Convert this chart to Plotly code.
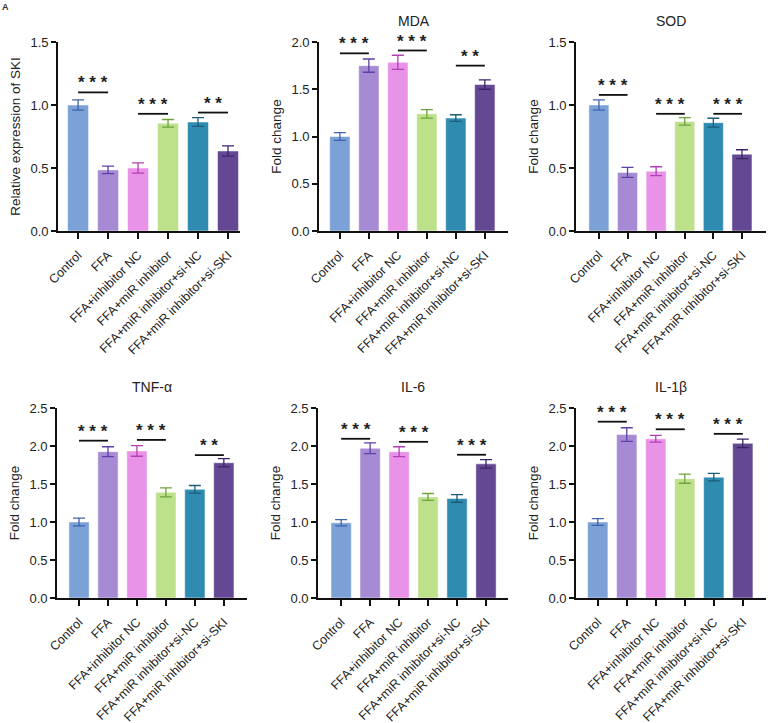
import plotly.graph_objects as go

W, H = 768, 723

categories = ["Control", "FFA", "FFA+inhibitor NC", "FFA+miR inhibitor",
              "FFA+miR inhibitor+si-NC", "FFA+miR inhibitor+si-SKI"]

# values per panel
ski_vals = [1.00, 0.485, 0.50, 0.855, 0.865, 0.635]
ski_err = [0.04, 0.03, 0.04, 0.03, 0.035, 0.04]
mda_vals = [1.00, 1.75, 1.785, 1.24, 1.195, 1.55]
mda_err = [0.04, 0.07, 0.075, 0.045, 0.035, 0.05]
sod_vals = [1.00, 0.465, 0.475, 0.87, 0.86, 0.61]
sod_err = [0.04, 0.04, 0.035, 0.03, 0.035, 0.035]
tnf_vals = [1.00, 1.925, 1.935, 1.39, 1.43, 1.78]
tnf_err = [0.05, 0.065, 0.07, 0.06, 0.05, 0.055]
il6_vals = [0.99, 1.97, 1.925, 1.33, 1.31, 1.765]
il6_err = [0.04, 0.07, 0.065, 0.045, 0.05, 0.055]
il1b_vals = [1.00, 2.15, 2.095, 1.57, 1.59, 2.035]
il1b_err = [0.045, 0.09, 0.045, 0.06, 0.05, 0.055]

# significance brackets: (left idx, right idx, y, label)
ski_sig = [(0, 1, 1.10, "* * *"), (2, 3, 0.93, "* * *"), (4, 5, 0.94, "* *")]
mda_sig = [(0, 1, 1.88, "* * *"), (2, 3, 1.91, "* * *"), (4, 5, 1.75, "* *")]
sod_sig = [(0, 1, 1.08, "* * *"), (2, 3, 0.93, "* * *"), (4, 5, 0.93, "* * *")]
tnf_sig = [(0, 1, 2.07, "* * *"), (2, 3, 2.08, "* * *"), (4, 5, 1.88, "* *")]
il6_sig = [(0, 1, 2.095, "* * *"), (2, 3, 2.055, "* * *"), (4, 5, 1.885, "* * *")]
il1b_sig = [(0, 1, 2.32, "* * *"), (2, 3, 2.22, "* * *"), (4, 5, 2.16, "* * *")]

bar_colors = ["#7ba1d6", "#a68bd4", "#e993e8", "#bde08b", "#2f8cb0", "#644893"]
err_colors = ["#3f63aa", "#5c40a6", "#b23fb5", "#6ea33a", "#1c5b7a", "#3b2568"]

panels = [
    dict(title="", ytitle="Relative expression of SKI", vals=ski_vals, err=ski_err, sig=ski_sig,
         yr=[0, 1.5], px=(58, 240), py=(42, 231), xr=[-0.67, 5.4]),
    dict(title="MDA", ytitle="Fold change", vals=mda_vals, err=mda_err, sig=mda_sig,
         yr=[0, 2.0], px=(319, 508), py=(42, 231), xr=[-0.72, 5.8]),
    dict(title="SOD", ytitle="Fold change", vals=sod_vals, err=sod_err, sig=sod_sig,
         yr=[0, 1.5], px=(576, 766), py=(42, 231), xr=[-0.8, 5.84]),
    dict(title="TNF-α", ytitle="Fold change", vals=tnf_vals, err=tnf_err, sig=tnf_sig,
         yr=[0, 2.5], px=(57, 247), py=(408, 598), xr=[-0.76, 5.8]),
    dict(title="IL-6", ytitle="Fold change", vals=il6_vals, err=il6_err, sig=il6_sig,
         yr=[0, 2.5], px=(318, 508), py=(408, 598), xr=[-0.8, 5.76]),
    dict(title="IL-1β", ytitle="Fold change", vals=il1b_vals, err=il1b_err, sig=il1b_sig,
         yr=[0, 2.5], px=(576, 766), py=(408, 598), xr=[-0.75, 5.8]),
]

FONT = "Arial, Liberation Sans, sans-serif"
fig = go.Figure()
layout = dict(width=W, height=H, margin=dict(l=0, r=0, t=0, b=0, autoexpand=False),
              paper_bgcolor="white", plot_bgcolor="white", showlegend=False,
              barmode="overlay", font=dict(family=FONT, color="#222", size=13))
shapes = []
annotations = []

for i, p in enumerate(panels):
    n = i + 1
    xa = "x" if n == 1 else f"x{n}"
    ya = "y" if n == 1 else f"y{n}"
    xkey = "xaxis" if n == 1 else f"xaxis{n}"
    ykey = "yaxis" if n == 1 else f"yaxis{n}"
    for j, c in enumerate(categories):
        fig.add_trace(go.Bar(
            x=[c], y=[p["vals"][j]], xaxis=xa, yaxis=ya, width=0.7,
            marker=dict(color=bar_colors[j], line=dict(color="rgba(255,255,255,0.5)", width=1)),
            error_y=dict(type="data", array=[p["err"][j]], visible=True,
                         color=err_colors[j], thickness=1.3, width=6),
            hoverinfo="skip"))
    x0, x1 = p["px"]
    y0, y1 = p["py"]
    layout[xkey] = dict(domain=[x0 / W, x1 / W], anchor=ya, range=p["xr"],
                        type="category", categoryorder="array", categoryarray=categories,
                        showline=True, linecolor="#111", linewidth=1.8,
                        ticks="outside", ticklen=6, tickwidth=1.5, tickcolor="#111",
                        tickangle=-45, tickfont=dict(size=12.5, color="#222"),
                        ticklabelstandoff=4, automargin=False,
                        showgrid=False, zeroline=False, fixedrange=True)
    layout[ykey] = dict(domain=[1 - y1 / H, 1 - y0 / H], anchor=xa, range=p["yr"],
                        dtick=0.5, tickformat=".1f", automargin=False,
                        showline=True, linecolor="#111", linewidth=1.8,
                        ticks="outside", ticklen=5, tickwidth=1.5, tickcolor="#111",
                        tickfont=dict(size=13, color="#222"),
                        title=dict(text=p["ytitle"], font=dict(size=13.5, color="#222"), standoff=7),
                        showgrid=False, zeroline=False, fixedrange=True)
    if p["title"]:
        annotations.append(dict(text=p["title"], xref=f"{xa} domain", yref="paper",
                                x=0.5, y=1 - (y0 - 21) / H, yanchor="middle", xanchor="center",
                                showarrow=False, font=dict(size=14, color="#222")))
    for (a, b, yv, lab) in p["sig"]:
        shapes.append(dict(type="line", xref=xa, yref=ya, x0=a, x1=b, y0=yv, y1=yv,
                           line=dict(color="#111", width=1.8)))
        annotations.append(dict(text="<b>" + lab + "</b>", xref=xa, yref=ya, x=(a + b) / 2, y=yv,
                                yanchor="bottom", xanchor="center", yshift=-2,
                                showarrow=False, font=dict(size=17, color="#222")))

annotations.append(dict(text="<b>A</b>", xref="paper", yref="paper", x=0.0, y=1.0,
                        xanchor="left", yanchor="top", showarrow=False,
                        font=dict(size=9, color="#333")))

layout["shapes"] = shapes
layout["annotations"] = annotations
fig.update_layout(**layout)
fig.write_html("out.html")
